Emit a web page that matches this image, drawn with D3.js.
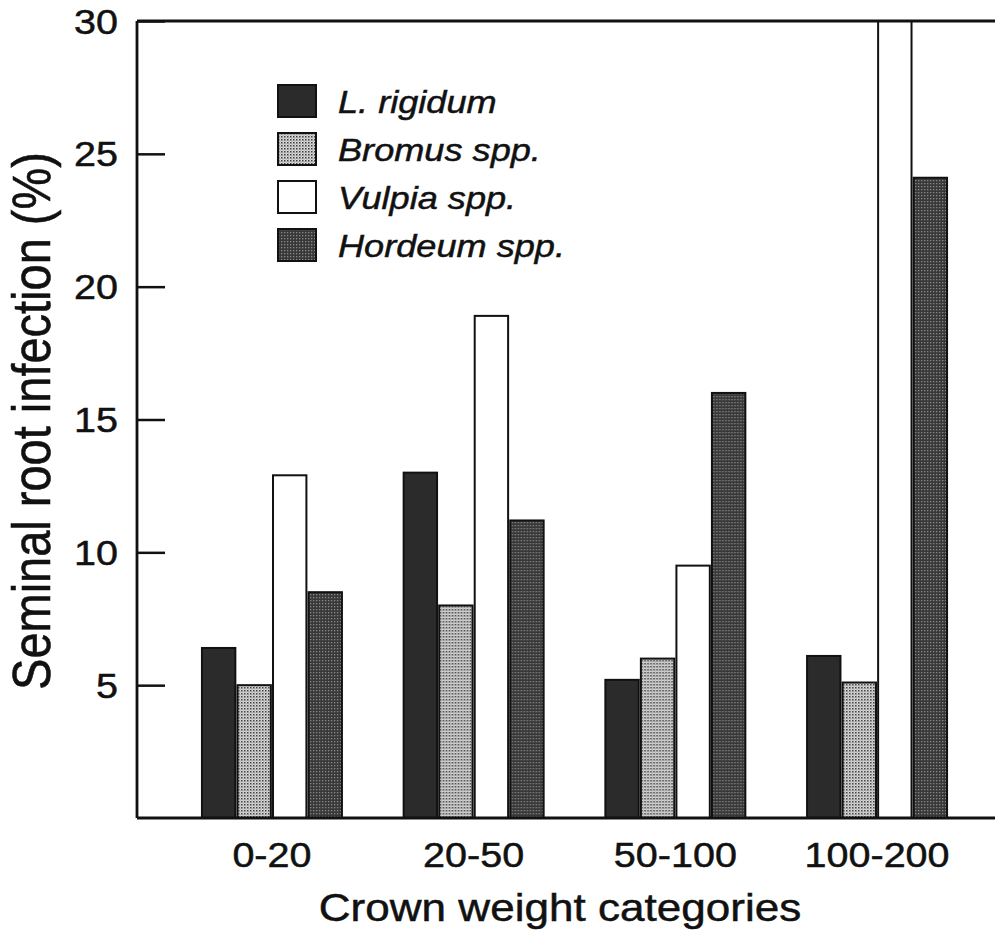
<!DOCTYPE html>
<html>
<head>
<meta charset="utf-8">
<script src="https://cdn.jsdelivr.net/npm/d3@7"></script>
<style>
  html, body { margin: 0; padding: 0; background: #fff; }
  svg { display: block; font-family: "Liberation Sans", Arial, Helvetica, sans-serif; }
  svg text { stroke: #111; stroke-width: 0.5px; }
</style>
</head>
<body>
<svg id="chart" width="995" height="931"></svg>
<script>
const categories = ["0-20", "20-50", "50-100", "100-200"];
const seriesNames = ["L. rigidum", "Bromus spp.", "Vulpia spp.", "Hordeum spp."];
const lRigidum = [6.4, 13.0, 5.2, 6.1];
const bromus   = [5.0, 8.0, 6.0, 5.1];
const vulpia   = [12.9, 18.9, 9.5, 30];
const hordeum  = [8.5, 11.2, 16.0, 24.1];
const yTicks = [5, 10, 15, 20, 25, 30];
const xTitle = "Crown weight categories";
const yTitle = "Seminal root infection (%)";

(function () {
const seriesValues = [lRigidum, bromus, vulpia, hordeum];
const SX = 1.13; // horizontal stretch of the scanned figure

const svg = d3.select("#chart");
const defs = svg.append("defs");

// light stipple (Bromus)
const p1 = defs.append("pattern").attr("id", "stipLight")
  .attr("width", 3).attr("height", 3).attr("patternUnits", "userSpaceOnUse");
p1.append("rect").attr("width", 3).attr("height", 3).attr("fill", "#dcdcdc");
p1.append("rect").attr("x", 0).attr("y", 0).attr("width", 1.5).attr("height", 1.5).attr("fill", "#3a3a3a");
p1.append("rect").attr("x", 1.5).attr("y", 1.5).attr("width", 1).attr("height", 1).attr("fill", "#777");

// dark stipple (Hordeum)
const p2 = defs.append("pattern").attr("id", "stipDark")
  .attr("width", 3).attr("height", 3).attr("patternUnits", "userSpaceOnUse");
p2.append("rect").attr("width", 3).attr("height", 3).attr("fill", "#383838");
p2.append("rect").attr("x", 0).attr("y", 0).attr("width", 1.3).attr("height", 1.3).attr("fill", "#8a8a8a");

const fills = ["#2b2b2b", "url(#stipLight)", "#ffffff", "url(#stipDark)"];

const mLeft = 137, mTop = 21, mBottom = 818, mRight = 995;

const y = d3.scaleLinear().domain([0, 30]).range([mBottom, mTop]);
const x0 = d3.scaleBand().domain(categories).range([137, 1012])
  .paddingInner(0.306).paddingOuter(0.322);
const x1 = d3.scaleBand().domain(seriesNames).range([0, x0.bandwidth()]).paddingInner(0.06);

// bars
const groups = svg.append("g").selectAll("g").data(categories).join("g")
  .attr("transform", d => `translate(${x0(d)},0)`);
groups.selectAll("rect")
  .data((c, ci) => seriesNames.map((s, si) => ({ s, si, v: seriesValues[si][ci] })))
  .join("rect")
  .attr("x", d => x1(d.s))
  .attr("y", d => y(d.v))
  .attr("width", x1.bandwidth())
  .attr("height", d => y(0) - y(d.v))
  .attr("fill", d => fills[d.si])
  .attr("stroke", "#111")
  .attr("stroke-width", 2);

// frame
const frame = svg.append("g").attr("stroke", "#111").attr("stroke-width", 2.8);
frame.append("line").attr("x1", mLeft).attr("x2", mRight).attr("y1", mTop).attr("y2", mTop);
frame.append("line").attr("x1", mLeft).attr("x2", mRight).attr("y1", mBottom).attr("y2", mBottom);
frame.append("line").attr("x1", mLeft).attr("x2", mLeft).attr("y1", mTop).attr("y2", mBottom);

// y axis
const yAxis = svg.append("g").attr("transform", `translate(${mLeft},0)`)
  .call(d3.axisLeft(y).tickValues(yTicks).tickSizeInner(-28).tickSizeOuter(0).tickPadding(0));
yAxis.select(".domain").remove();
yAxis.selectAll(".tick line").attr("stroke", "#111").attr("stroke-width", 2.5);
yAxis.selectAll(".tick text")
  .attr("x", null).attr("dy", null)
  .attr("transform", `translate(-19,12) scale(${SX},1)`)
  .attr("text-anchor", "end")
  .attr("font-size", 35)
  .attr("font-family", "'Liberation Sans', Arial, sans-serif")
  .attr("fill", "#111");

// x axis
const xAxis = svg.append("g").attr("transform", `translate(0,${mBottom})`)
  .call(d3.axisBottom(x0).tickSize(0).tickPadding(0));
xAxis.select(".domain").remove();
xAxis.selectAll(".tick text")
  .attr("y", null).attr("dy", null)
  .attr("transform", `translate(0,49) scale(${SX},1)`)
  .attr("text-anchor", "middle")
  .attr("font-size", 35)
  .attr("font-family", "'Liberation Sans', Arial, sans-serif")
  .attr("fill", "#111");

// axis titles
svg.append("text")
  .attr("transform", `translate(560,921) scale(${SX},1)`)
  .attr("text-anchor", "middle")
  .attr("font-size", 39)
  .attr("fill", "#111")
  .text(xTitle);

svg.append("text")
  .attr("transform", `translate(50,421) scale(${SX},1) rotate(-90)`)
  .attr("text-anchor", "middle")
  .attr("font-size", 47)
  .attr("fill", "#111")
  .text(yTitle);

// legend
const legend = svg.append("g");
const legRows = legend.selectAll("g").data(seriesNames).join("g")
  .attr("transform", (d, i) => `translate(278,${85 + i * 48})`);
legRows.append("rect")
  .attr("width", 38).attr("height", 32)
  .attr("fill", (d, i) => fills[i])
  .attr("stroke", "#111").attr("stroke-width", 2);
legRows.append("text")
  .attr("transform", `translate(60,28) scale(${SX},1)`)
  .attr("font-size", 32)
  .attr("font-style", "italic")
  .attr("fill", "#111")
  .text(d => d);
})();
</script>
</body>
</html>
